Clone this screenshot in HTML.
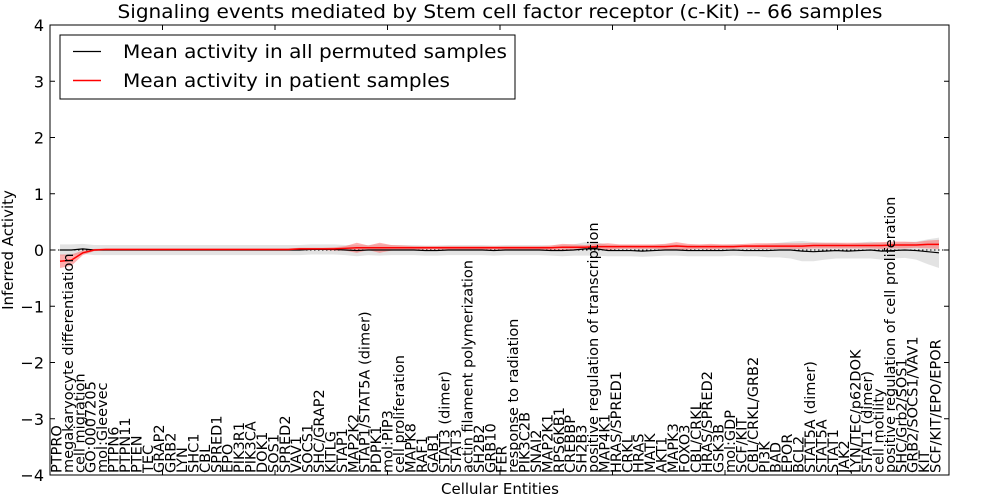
<!DOCTYPE html>
<html><head><meta charset="utf-8">
<style>
html,body{margin:0;padding:0;background:#fff;}
svg{display:block;font-family:"DejaVu Sans","Liberation Sans",sans-serif;}
</style></head>
<body>
<svg id="chart" width="1000" height="500" viewBox="0 0 1000 500">
<rect x="0" y="0" width="1000" height="500" fill="#fff"/>
<text x="500" y="18" text-anchor="middle" font-size="19" textLength="765" lengthAdjust="spacingAndGlyphs">Signaling events mediated by Stem cell factor receptor (c-Kit) -- 66 samples</text>
<g id="plot"></g>
<text x="500" y="494" text-anchor="middle" font-size="15">Cellular Entities</text>
<text transform="translate(13,250) rotate(-90)" text-anchor="middle" font-size="15">Inferred Activity</text>
</svg>
<script>
const categories=["PTPRO","megakaryocyte differentiation","cell migration","GO:0007205","mol:Gleevec","PTPN6","PTPN11","PTEN","TEC","GRAP2","GRB2","LYN","SHC1","CBL","SPRED1","EPO","PIK3R1","PIK3CA","DOK1","SOS1","SPRED2","VAV1","SOCS1","SHC/GRAP2","KITLG","STAP1","MAP2K2","STAP1/STAT5A (dimer)","PDPK1","mol:PIP3","cell proliferation","MAPK8","RAF1","GAB1","STAT3 (dimer)","STAT3","actin filament polymerization","SH2B2","GRB10","FER","response to radiation","PIK3C2B","SNAI2","MAP2K1","RPS6KB1","CREBBP","SH2B3","positive regulation of transcription","MAP4K1","HRAS/SPRED1","CRKL","HRAS","MATK","AKT1","MAPK3","FOXO3","CBL/CRKL","HRAS/SPRED2","GSK3B","mol:GDP","SCF/KIT","CBL/CRKL/GRB2","PI3K","BAD","EPOR","BCL2","STAT5A (dimer)","STAT5A","STAT1","JAK2","LYN/TEC/p62DOK","STAT1 (dimer)","cell motility","positive regulation of cell proliferation","SHC/Grb2/SOS1","GRB2/SOCS1/VAV1","KIT","SCF/KIT/EPO/EPOR"];
const patientMean=[-0.2,-0.18,-0.05,0,0.01,0.01,0.01,0.01,0.01,0.01,0.01,0.01,0.01,0.01,0.01,0.01,0.01,0.01,0.01,0.01,0.01,0.02,0.02,0.02,0.02,0.03,0.04,0.04,0.04,0.04,0.04,0.04,0.04,0.04,0.04,0.04,0.04,0.04,0.04,0.04,0.04,0.04,0.04,0.04,0.05,0.05,0.05,0.06,0.06,0.06,0.06,0.06,0.06,0.06,0.07,0.06,0.06,0.06,0.06,0.06,0.07,0.07,0.07,0.07,0.07,0.07,0.08,0.08,0.08,0.08,0.08,0.08,0.08,0.09,0.09,0.09,0.1,0.1];
const patientSpread=[0.12,0.1,0.04,0.02,0.02,0.02,0.02,0.02,0.02,0.02,0.02,0.02,0.02,0.02,0.02,0.02,0.02,0.02,0.02,0.02,0.02,0.02,0.02,0.02,0.03,0.04,0.09,0.04,0.09,0.05,0.04,0.03,0.03,0.03,0.03,0.03,0.03,0.03,0.03,0.03,0.03,0.03,0.03,0.04,0.06,0.05,0.04,0.05,0.06,0.04,0.04,0.04,0.04,0.05,0.07,0.05,0.04,0.05,0.04,0.04,0.04,0.05,0.05,0.05,0.05,0.05,0.05,0.05,0.05,0.05,0.05,0.05,0.06,0.06,0.06,0.05,0.07,0.08];
const permutedMean=[0,0,0.02,0,0,0,0,0,0,0,0,0,0,0,0,0,0,0,0,0,0,0,0.01,0.01,0.01,0,-0.01,0,0,0,0,0,-0.01,-0.01,0,0,0,0,-0.01,0,0,0,0,-0.01,-0.01,0,0.02,0.02,-0.01,-0.01,-0.01,-0.02,-0.01,0,0,-0.01,-0.01,-0.01,-0.01,0,-0.01,-0.01,-0.01,0,0,-0.02,-0.03,-0.02,-0.01,-0.02,-0.01,0,-0.02,-0.01,0,-0.01,-0.03,-0.05];
const permutedSpread=[0.1,0.1,0.09,0.09,0.09,0.09,0.09,0.09,0.09,0.09,0.09,0.09,0.09,0.09,0.09,0.09,0.09,0.09,0.09,0.09,0.09,0.09,0.09,0.09,0.09,0.09,0.1,0.09,0.1,0.09,0.09,0.09,0.09,0.09,0.09,0.09,0.09,0.09,0.09,0.09,0.09,0.09,0.09,0.09,0.1,0.1,0.12,0.12,0.1,0.1,0.1,0.1,0.1,0.1,0.1,0.1,0.1,0.1,0.1,0.1,0.1,0.1,0.12,0.13,0.15,0.18,0.17,0.15,0.14,0.13,0.14,0.15,0.15,0.14,0.14,0.16,0.22,0.27];
const yTicks=[4,3,2,1,0,-1,-2,-3,-4];
const xTicks=[0,10,20,30,40,50,60,70];

const L=50,R=949,T=25,B=475;
function xs(i){return 60+i*(939-60)/(categories.length-1);}
function ys(v){return T+(4-v)*(B-T)/8;}
const NS="http://www.w3.org/2000/svg";
const plot=document.getElementById('plot');
function mk(tag,attrs,parent){const e=document.createElementNS(NS,tag);for(const k in attrs)e.setAttribute(k,attrs[k]);(parent||plot).appendChild(e);return e;}
function band(mean,spread){
  let d="";
  mean.forEach((m,i)=>{d+=(i?"L":"M")+xs(i)+","+ys(m+spread[i]);});
  for(let i=mean.length-1;i>=0;i--)d+="L"+xs(i)+","+ys(mean[i]-spread[i]);
  return d+"Z";
}
function line(mean){return mean.map((m,i)=>(i?"L":"M")+xs(i)+","+ys(m)).join("");}

let p=mk('path',{d:band(permutedMean,permutedSpread),fill:"#d9d9d9","fill-opacity":"0.75",stroke:"none"});


p=mk('path',{d:band(patientMean,patientSpread),fill:"#ff6060","fill-opacity":"0.5",stroke:"none"});


p=mk('line',{x1:L,x2:R,y1:ys(0),y2:ys(0),stroke:"#000","stroke-dasharray":"1.5,2.5","stroke-width":1});


p=mk('path',{d:line(permutedMean),fill:"none",stroke:"#000","stroke-width":1.2});


p=mk('path',{d:line(patientMean),fill:"none",stroke:"#ff0000","stroke-width":1.5});



yTicks.forEach(v=>{
  const y=ys(v);
  let t=mk('line',{x1:L,x2:L+5,y1:y,y2:y,stroke:"#000"});
  
  
  t=mk('line',{x1:R-5,x2:R,y1:y,y2:y,stroke:"#000"});
  
  
  const tx=mk('text',{x:L-6,y:y+6,"text-anchor":"end","font-size":"16"});
  tx.textContent=(v<0?"\u2212":"")+Math.abs(v);
  
  
});
xTicks.forEach(v=>{
  const x=L+v*11.25;
  let t=mk('line',{x1:x,x2:x,y1:T,y2:T+5,stroke:"#000"});
  
  
  t=mk('line',{x1:x,x2:x,y1:B-5,y2:B,stroke:"#000"});
  
  
});
categories.forEach((c,i)=>{
  const x=xs(i)+1.5;
  const tx=mk('text',{transform:`translate(${x},${B-2}) rotate(-90)`,"font-size":"14.5"});
  tx.textContent=c;
  
  
});
p=mk('rect',{x:L,y:T,width:R-L,height:B-T,fill:"none",stroke:"#000","stroke-width":1});


const lg=mk('g',{});


mk('rect',{x:60,y:35,width:455,height:64,fill:"#fff",stroke:"#000"},lg);
mk('line',{x1:73,x2:101,y1:51.5,y2:51.5,stroke:"#000","stroke-width":1.2},lg);
mk('line',{x1:73,x2:101,y1:80.5,y2:80.5,stroke:"#f00","stroke-width":1.5},lg);
let t1=mk('text',{x:123,y:58,"font-size":"19",textLength:"384",lengthAdjust:"spacingAndGlyphs"},lg);t1.textContent="Mean activity in all permuted samples";


let t2=mk('text',{x:123,y:87,"font-size":"19",textLength:"327",lengthAdjust:"spacingAndGlyphs"},lg);t2.textContent="Mean activity in patient samples";


</script>
</body></html>
